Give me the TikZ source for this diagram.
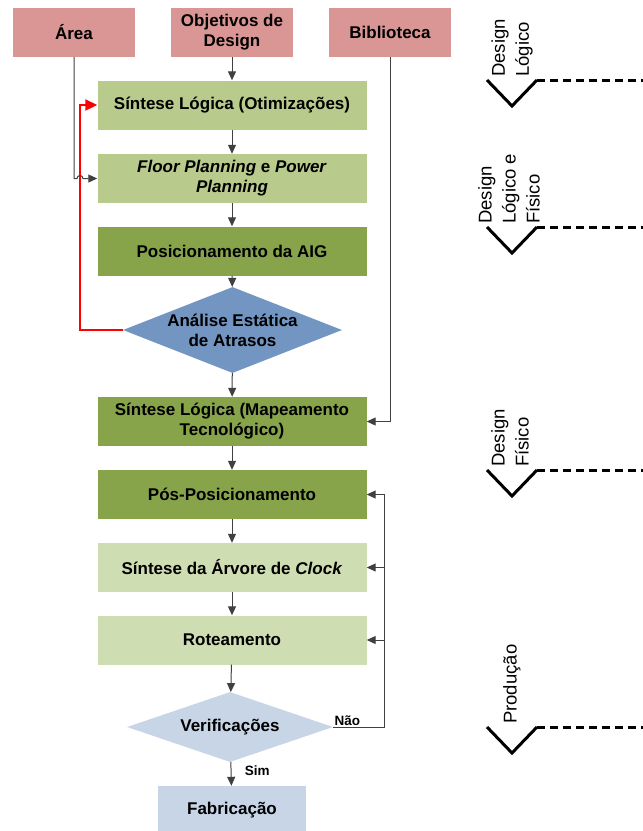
\documentclass[tikz,border=0pt]{standalone}
\usepackage{fontspec}
\setmainfont{Liberation Sans}
\usetikzlibrary{arrows.meta,shapes.geometric}
\definecolor{inputred}{HTML}{D99694}
\definecolor{lightolive}{HTML}{B8CB8C}
\definecolor{darkolive}{HTML}{88A44B}
\definecolor{paleolive}{HTML}{CFDDB2}
\definecolor{stablue}{HTML}{7395C2}
\definecolor{paleblue}{HTML}{C7D5E7}
\definecolor{wire}{HTML}{404040}
\tikzset{
	box/.style={rectangle, minimum width=269pt, minimum height=49pt, inner sep=2pt, align=center, font=\fontsize{17}{20}\selectfont\bfseries},
	inbox/.style={box, fill=inputred, minimum width=122pt},
	decision/.style={diamond, inner sep=0pt, align=center, font=\fontsize{17}{20}\selectfont\bfseries},
	conn/.style={draw=wire, line width=1pt, -{Triangle[length=9pt,width=8pt]}},
	feedback/.style={draw=red, line width=2pt, -{Triangle[length=12pt,width=11pt]}},
	lbl/.style={font=\fontsize{13.5}{16}\selectfont\bfseries},
	stage/.style={rotate=90, anchor=west, inner sep=0pt, align=left, font=\fontsize{18.5}{24}\selectfont},
	chevron/.style={line width=3pt},
	stageline/.style={line width=3pt, dash pattern=on 8pt off 5pt},
}

\begin{document}
\begin{tikzpicture}[x=1pt,y=-1pt]
			%%%%% START %%%%%
			\useasboundingbox (0,0) rectangle (643,831);
			
			\node[inbox] (area) at (74,32.5) {Área};
			\node[inbox] (objet) at (232,32.5) {Objetivos de\\Design};
			\node[inbox] (biblio) at (390,32.5) {Biblioteca};
			
			\node[box, fill=lightolive] (otim) at (232,105) {Síntese Lógica (Otimizações)};
			\node[box, fill=lightolive] (floor) at (232,178.5) {\textit{Floor Planning} e \textit{Power}\\\textit{Planning}};
			\node[box, fill=darkolive] (aig) at (232,251) {Posicionamento da AIG};
			\node[decision, fill=stablue, aspect=2.55, minimum width=219pt, minimum height=86pt] (sta) at (232.5,330) {Análise Estática\\de Atrasos};
			\node[box, fill=darkolive] (mapeam) at (232,421.5) {Síntese Lógica (Mapeamento\\Tecnológico)};
			\node[box, fill=darkolive] (pos) at (232,494.5) {Pós-Posicionamento};
			\node[box, fill=paleolive] (arvore) at (232,567.5) {Síntese da Árvore de \textit{Clock}};
			\node[box, fill=paleolive] (rotea) at (232,640) {Roteamento};
			\node[decision, fill=paleblue, aspect=2.94, minimum width=206pt, minimum height=70pt] (verif) at (230,727) {Verificações};
			\node[box, fill=paleblue, minimum width=148pt, minimum height=48pt] (fab) at (232,810) {Fabricação};
			
			\draw[conn] (objet) -- (otim);
			\draw[conn] (otim) -- (floor);
			\draw[conn] (floor) -- (aig);
			\draw[conn] (aig) -- (sta);
			\draw[conn] (sta) -- (mapeam);
			\draw[conn] (mapeam) -- (pos);
			\draw[conn] (pos) -- (arvore);
			\draw[conn] (arvore) -- (rotea);
			\draw[conn] (rotea) -- (verif);
			\draw[conn] (verif) -- node[lbl, anchor=west, pos=0.35, xshift=10pt] {Sim} (fab);
			
			% feedback loop from timing analysis
			\coordinate (fbk) at (80,330);
			\coordinate (hop) at (80,178.5);
			\draw[feedback] (sta.west) -- (fbk) |- (otim.west);
			\draw[conn] (area.south) |- ([xshift=-3pt]hop) arc[start angle=180, end angle=0, radius=3pt] -- (floor.west);
			\draw[conn] (biblio.south) |- (mapeam.east);
			
			% Nao branch
			\coordinate (loop) at (384,727);
			\draw[conn] (verif.east) -- node[lbl, anchor=south west, pos=0, inner sep=1pt] {Não} (loop) |- (pos.east);
			\draw[conn] (loop |- arvore.east) -- (arvore.east);
			\draw[conn] (loop |- rotea.east) -- (rotea.east);
			
			% stages
			\node[stage] (lgc) at (512,77) {Design\\Lógico};
			\draw[chevron] (487,80) -- (512,106) -- (537,80);
			\draw[stageline] (537,80) -- (643,80);
			
			\node[stage] (lgcfis) at (509,224) {Design\\Lógico e\\Físico};
			\draw[chevron] (487,227) -- (512,253) -- (537,227);
			\draw[stageline] (537,227) -- (643,227);
			
			\node[stage] (fis) at (510,467) {Design\\Físico};
			\draw[chevron] (487,470) -- (512,496) -- (537,470);
			\draw[stageline] (537,470) -- (643,470);
			
			\node[stage] (prod) at (512,724) {Produção};
			\draw[chevron] (487,727) -- (512,753) -- (537,727);
			\draw[stageline] (537,727) -- (643,727);
			%%%%% END %%%%%
\end{tikzpicture}
\end{document}
